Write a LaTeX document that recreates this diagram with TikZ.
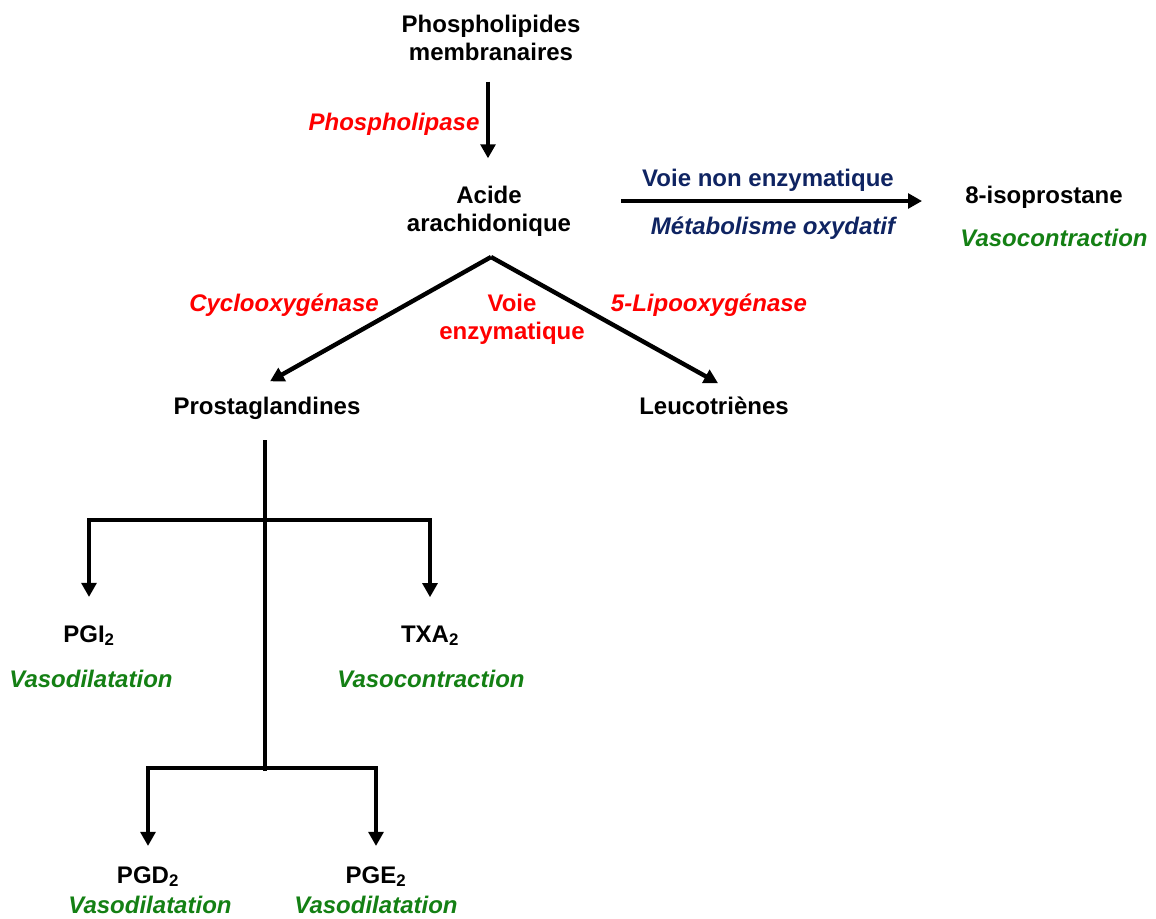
\documentclass[tikz,border=0pt]{standalone}
\usepackage{fontspec}
\setmainfont{Liberation Sans}
\usetikzlibrary{arrows.meta,calc}
\definecolor{enzred}{RGB}{255,0,0}
\definecolor{navyb}{RGB}{15,36,98}
\definecolor{effgreen}{RGB}{20,128,20}
\begin{document}
\begin{tikzpicture}[x=0.75pt,y=-0.75pt,
  lbl/.style={font=\bfseries\fontsize{18}{21}\selectfont, align=center, inner sep=0pt, anchor=base},
  enz/.style={lbl, text=enzred, font=\bfseries\itshape\fontsize{18}{21}\selectfont},
  enzup/.style={lbl, text=enzred},
  nav/.style={lbl, text=navyb},
  navit/.style={lbl, text=navyb, font=\bfseries\itshape\fontsize{18}{21}\selectfont},
  eff/.style={lbl, text=effgreen, font=\bfseries\itshape\fontsize{18}{21}\selectfont},
  conn/.style={line width=3.3pt, black},
  arr/.style={conn, -{Triangle[length=10.5pt,width=11pt]}}]
\useasboundingbox (0,0) rectangle (1156,918);

% nodes (base anchor of multi-line nodes = last line)
\node[lbl] (pm) at (491,60) {Phospholipides\\membranaires};
\node[enz] (pla) at (394,130) {Phospholipase};
\node[lbl] (aa) at (489,231) {Acide\\arachidonique};
\node[nav] (vne) at (768,186) {Voie non enzymatique};
\node[navit] (mox) at (773,234) {Métabolisme oxydatif};
\node[lbl] (iso) at (1044,203) {8-isoprostane};
\node[eff] (isoeff) at (1054,246) {Vasocontraction};
\node[enz] (cox) at (284,311) {Cyclooxygénase};
\node[enzup] (ve) at (512,339) {Voie\\enzymatique};
\node[enz] (lox) at (709,311) {5-Lipooxygénase};
\node[lbl] (pg) at (267,414) {Prostaglandines};
\node[lbl] (lt) at (714,414) {Leucotriènes};
\node[lbl] (pgi) at (89,642) {PGI\textsubscript{2}};
\node[eff] (pgieff) at (91,687) {Vasodilatation};
\node[lbl] (txa) at (430,642) {TXA\textsubscript{2}};
\node[eff] (txaeff) at (431,687) {Vasocontraction};
\node[lbl] (pgd) at (148,883) {PGD\textsubscript{2}};
\node[eff] (pgdeff) at (150,913) {Vasodilatation};
\node[lbl] (pge) at (376,883) {PGE\textsubscript{2}};
\node[eff] (pgeeff) at (376,913) {Vasodilatation};

% junction coordinates
\coordinate (apex) at (491,257);
\coordinate (h1) at (621,201);
\coordinate (trtop) at (265,440);
\coordinate (j1) at (265,520);
\coordinate (j2) at (265,768);

% connectors
\draw[arr] ($(pm.south)+(-3,21)$) -- ($(aa.north)+(-1,-27)$);
\draw[arr] (h1) -- ($(iso.west |- h1)+(-43,0)$);
\draw[arr] (apex) -- ($(pg.north)+(3,-15)$);
\draw[arr] (apex) -- ($(lt.north)+(4,-13)$);
\draw[conn] (trtop) -- ([yshift=-2]j2);
\draw[arr, shorten >=21pt] (j1) -| (pgi.north);
\draw[arr, shorten >=21pt] (j1) -| (txa.north);
\draw[arr, shorten >=15pt] (j2) -| (pgd.north);
\draw[arr, shorten >=15pt] (j2) -| (pge.north);
\end{tikzpicture}
\end{document}
